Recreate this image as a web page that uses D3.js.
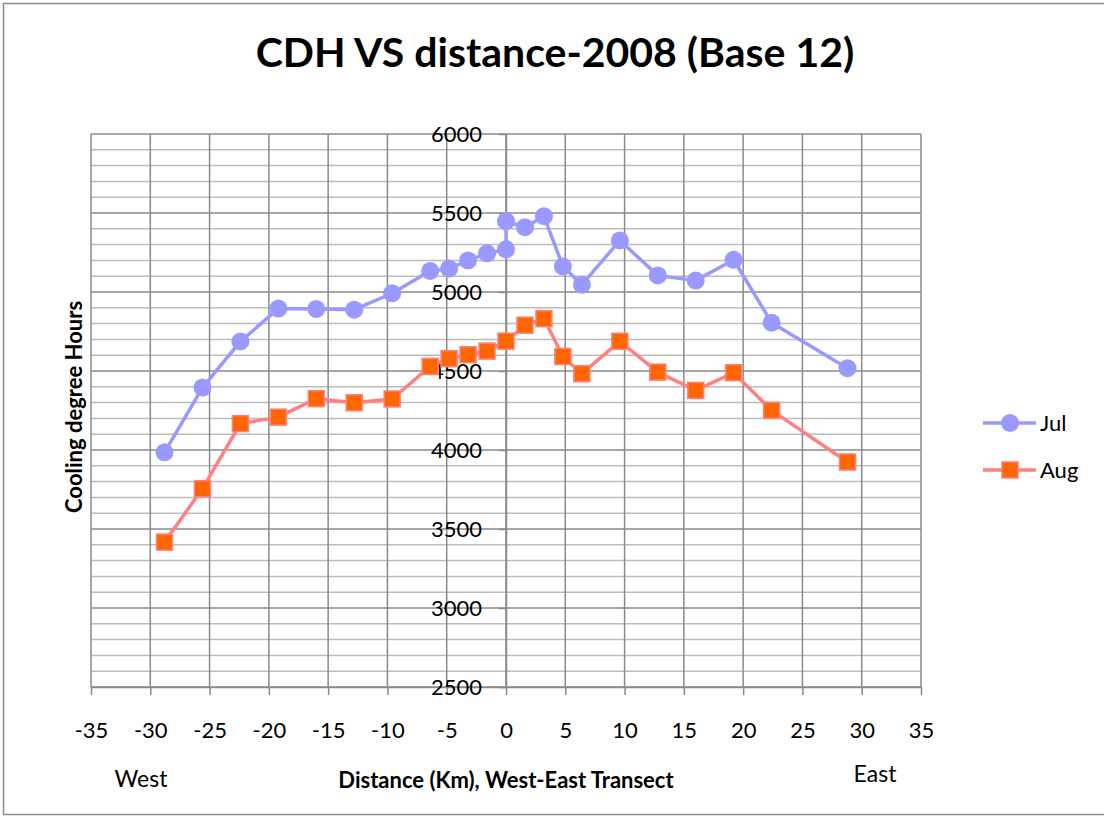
<!DOCTYPE html>
<html>
<head>
<meta charset="utf-8">
<script src="https://cdn.jsdelivr.net/npm/d3@7"></script>
<style>
  body { margin: 0; background: #fff; }
  text { font-family: Lato, "Open Sans", sans-serif; }
</style>
</head>
<body>
<div id="chart-holder"></div>
<script>
// distance along the transect (km), west negative
var JUL_X = [-28.8, -25.6, -22.4, -19.2, -16, -12.8, -9.6, -6.4, -4.8, -3.2, -1.6, 0, 0, 1.6, 3.2, 4.8, 6.4, 9.6, 12.8, 16, 19.2, 22.4, 28.8]
var JUL_Y = [3985, 4395, 4687, 4895, 4893, 4888, 4992, 5133, 5148, 5200, 5245, 5270, 5448, 5410, 5480, 5162, 5046, 5326, 5105, 5072, 5204, 4806, 4518]

var AUG_X = [-28.8, -25.6, -22.4, -19.2, -16, -12.8, -9.6, -6.4, -4.8, -3.2, -1.6, 0, 1.6, 3.2, 4.8, 6.4, 9.6, 12.8, 16, 19.2, 22.4, 28.8]
var AUG_Y = [3417, 3755, 4167, 4208, 4325, 4299, 4323, 4529, 4578, 4603, 4626, 4689, 4790, 4831, 4592, 4483, 4688, 4493, 4377, 4489, 4251, 3924]

var X_TICKS = [-35, -30, -25, -20, -15, -10, -5, 0, 5, 10, 15, 20, 25, 30, 35]
var Y_TICKS = [2500, 3000, 3500, 4000, 4500, 5000, 5500, 6000]
var SERIES = ["Jul", "Aug"]

var jul = JUL_X.map(function(d, i) { return {x: d, y: JUL_Y[i]} })
var aug = AUG_X.map(function(d, i) { return {x: d, y: AUG_Y[i]} })

// set the dimensions and margins of the graph
var margin = {top: 134, right: 183, bottom: 131, left: 91},
    width = 1104 - margin.left - margin.right,
    height = 818 - margin.top - margin.bottom;

var svg = d3.select("#chart-holder")
  .append("svg")
    .attr("width", 1104)
    .attr("height", 818)

// chart border
svg.append("rect")
  .attr("x", 3.5).attr("y", 3.5)
  .attr("width", 1110).attr("height", 811)
  .attr("fill", "none")
  .attr("stroke", "#8c8c8c")
  .attr("stroke-width", 1.5)

svg.append("text")
  .attr("x", 555).attr("y", 67)
  .attr("text-anchor", "middle")
  .style("font-size", "41px")
  .style("font-weight", "bold")
  .text("CDH VS distance-2008 (Base 12)")

var plot = svg.append("g")
  .attr("transform", "translate(" + margin.left + "," + margin.top + ")");

var x = d3.scaleLinear().domain([-35, 35]).range([0, width])
var y = d3.scaleLinear().domain([2500, 6000]).range([height, 0])

// minor horizontal grid every 100
plot.append("g")
  .selectAll("line")
  .data(d3.range(2600, 6000, 100).filter(function(v) { return v % 500 != 0 }))
  .enter().append("line")
    .attr("x1", 0).attr("x2", width)
    .attr("y1", function(d) { return y(d) }).attr("y2", function(d) { return y(d) })
    .attr("stroke", "#bcbcbc")
    .attr("stroke-width", 1.5)

// major horizontal grid
plot.append("g")
  .selectAll("line")
  .data(Y_TICKS)
  .enter().append("line")
    .attr("x1", 0).attr("x2", width)
    .attr("y1", function(d) { return y(d) }).attr("y2", function(d) { return y(d) })
    .attr("stroke", "#8a8a8a")
    .attr("stroke-width", 1.5)

// vertical grid
plot.append("g")
  .selectAll("line")
  .data(X_TICKS)
  .enter().append("line")
    .attr("x1", function(d) { return x(d) }).attr("x2", function(d) { return x(d) })
    .attr("y1", 0).attr("y2", height)
    .attr("stroke", "#8a8a8a")
    .attr("stroke-width", 1.5)

// x axis
var xAxis = plot.append("g")
  .attr("transform", "translate(0," + height + ")")
  .call(d3.axisBottom(x).tickValues(X_TICKS).tickFormat(function(d) { return String(d) })
    .tickSize(8).tickPadding(27).tickSizeOuter(0))
xAxis.select(".domain").attr("stroke", "#8a8a8a").attr("stroke-width", 1.5)
xAxis.selectAll(".tick line").attr("stroke", "#8a8a8a").attr("stroke-width", 1.5)
xAxis.selectAll("text").style("font-size", "22px").style("font-family", "Lato").attr("fill", "#000")

// y axis sits on x = 0
var yAxis = plot.append("g")
  .attr("transform", "translate(" + x(0) + ",0)")
  .call(d3.axisLeft(y).tickValues(Y_TICKS).tickFormat(function(d) { return String(d) })
    .tickSize(7).tickPadding(17).tickSizeOuter(0))
yAxis.select(".domain").attr("stroke", "#8a8a8a").attr("stroke-width", 1.5)
yAxis.selectAll(".tick line").attr("stroke", "#8a8a8a").attr("stroke-width", 1.5)
yAxis.selectAll("text").style("font-size", "22px").style("font-family", "Lato").attr("fill", "#000")

// axis titles
svg.append("text")
  .attr("x", 506).attr("y", 788)
  .attr("text-anchor", "middle")
  .style("font-size", "22px")
  .style("font-weight", "bold")
  .text("Distance (Km), West-East Transect")

svg.append("text")
  .attr("x", 141).attr("y", 787)
  .attr("text-anchor", "middle")
  .style("font-size", "23px")
  .text("West")

svg.append("text")
  .attr("x", 875).attr("y", 782)
  .attr("text-anchor", "middle")
  .style("font-size", "23px")
  .text("East")

svg.append("text")
  .attr("transform", "translate(82,407) rotate(-90)")
  .attr("text-anchor", "middle")
  .style("font-size", "22px")
  .style("font-weight", "bold")
  .text("Cooling degree Hours")

// lines
var line = d3.line().x(function(d) { return x(d.x) }).y(function(d) { return y(d.y) })

plot.append("path")
  .datum(jul)
  .attr("d", line)
  .attr("fill", "none")
  .attr("stroke", "#9999ff")
  .attr("stroke-width", 3.5)
  .attr("stroke-linejoin", "round")

plot.append("path")
  .datum(aug)
  .attr("d", line)
  .attr("fill", "none")
  .attr("stroke", "#ff8080")
  .attr("stroke-width", 3.5)
  .attr("stroke-linejoin", "round")

// markers
plot.selectAll(".jul-dot")
  .data(jul)
  .enter().append("circle")
    .attr("class", "jul-dot")
    .attr("cx", function(d) { return x(d.x) })
    .attr("cy", function(d) { return y(d.y) })
    .attr("r", 9)
    .attr("fill", "#9999ff")

plot.selectAll(".aug-sq")
  .data(aug)
  .enter().append("rect")
    .attr("class", "aug-sq")
    .attr("x", function(d) { return x(d.x) - 8 })
    .attr("y", function(d) { return y(d.y) - 8 })
    .attr("width", 16)
    .attr("height", 16)
    .attr("fill", "#ff6600")
    .attr("stroke", "#ff8080")
    .attr("stroke-width", 1.5)

// legend
var legend = svg.append("g")
  .selectAll("g")
  .data(SERIES)
  .enter().append("g")
    .attr("transform", function(d, i) { return "translate(983," + (423 + i * 47) + ")" })

legend.append("line")
  .attr("x1", 0).attr("x2", 53)
  .attr("stroke", function(d, i) { return i == 0 ? "#9999ff" : "#ff8080" })
  .attr("stroke-width", 3.5)

legend.filter(function(d, i) { return i == 0 }).append("circle")
  .attr("cx", 27).attr("r", 9).attr("fill", "#9999ff")

legend.filter(function(d, i) { return i == 1 }).append("rect")
  .attr("x", 19).attr("y", -8).attr("width", 16).attr("height", 16)
  .attr("fill", "#ff6600").attr("stroke", "#ff8080").attr("stroke-width", 1.5)

legend.append("text")
  .attr("x", 57).attr("y", 8)
  .style("font-size", "22px")
  .text(function(d) { return d })
</script>
</body>
</html>
